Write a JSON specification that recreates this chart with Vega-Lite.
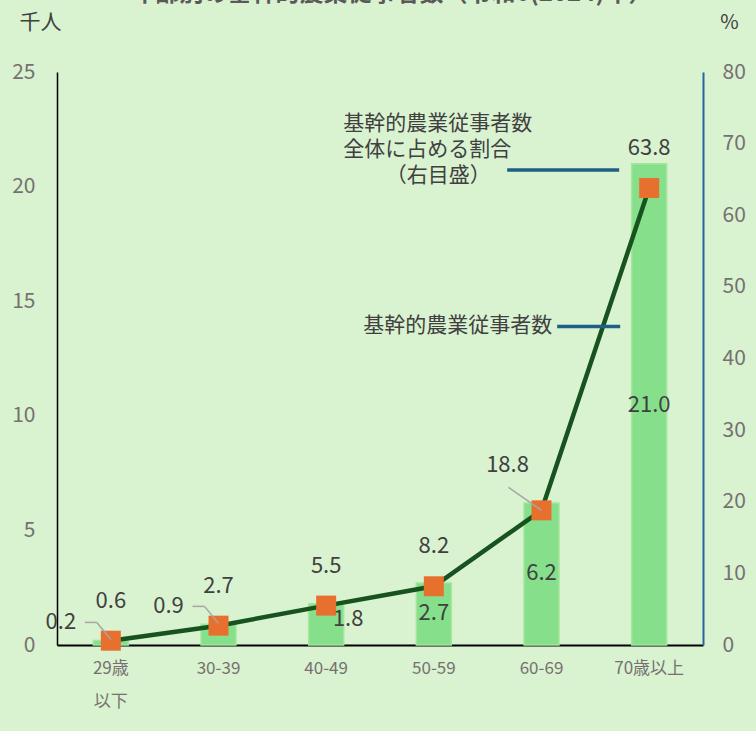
{
  "$schema": "https://vega.github.io/schema/vega-lite/v6.json",
  "width": 646,
  "height": 573,
  "autosize": {"type": "none"},
  "padding": {"left": 57, "top": 72, "right": 53, "bottom": 86},
  "background": "#d9f2d0",
  "config": {"view": {"stroke": null}, "font": "Noto Sans CJK JP"},
  "title": {"text": "年齢別の基幹的農業従事者数（令和6(2024)年）", "fontSize": 24, "fontWeight": "bold", "color": "#595959", "anchor": "middle", "frame": "group", "baseline": "alphabetic", "offset": 0, "dy": 14, "dx": 12},
  "data": {"values": [
    {"age": "29歳以下", "persons": 0.2, "pct": 0.6},
    {"age": "30-39", "persons": 0.9, "pct": 2.7},
    {"age": "40-49", "persons": 1.8, "pct": 5.5},
    {"age": "50-59", "persons": 2.7, "pct": 8.2},
    {"age": "60-69", "persons": 6.2, "pct": 18.8},
    {"age": "70歳以上", "persons": 21.0, "pct": 63.8}
  ]},
  "encoding": {
    "x": {
      "field": "age", "type": "nominal",
      "sort": ["29歳以下", "30-39", "40-49", "50-59", "60-69", "70歳以上"],
      "scale": {"paddingInner": 0.675, "paddingOuter": 0.3375},
      "axis": {"title": null, "labelAngle": 0, "ticks": false, "domainColor": "#000000", "domainWidth": 2, "labelFontSize": 17, "labelColor": "#767171", "labelPadding": 15, "labelLineHeight": 33, "labelBaseline": "top",
        "labelExpr": "datum.value == '29歳以下' ? ['29歳', '以下'] : datum.value"}
    }
  },
  "layer": [
    {
      "encoding": {
        "y": {"field": "persons", "type": "quantitative", "scale": {"domain": [0, 25]},
          "axis": {"orient": "left", "values": [0, 5, 10, 15, 20, 25], "grid": false, "ticks": false, "domainColor": "#000000", "domainWidth": 1.5, "labelFontSize": 21, "labelColor": "#767171", "labelPadding": 22,
            "title": "千人", "titleAngle": 0, "titleAlign": "center", "titleBaseline": "middle", "titleX": -17, "titleY": -50, "titleFontSize": 21, "titleFontWeight": "normal", "titleColor": "#404040"}}
      },
      "layer": [
        {"mark": {"type": "bar", "fill": "#86e08b", "stroke": "#a3e69c", "strokeWidth": 1.5}}
      ]
    },
    {
      "encoding": {
        "y": {"field": "pct", "type": "quantitative", "scale": {"domain": [0, 80]},
          "axis": {"orient": "right", "values": [0, 10, 20, 30, 40, 50, 60, 70, 80], "grid": false, "ticks": false, "domainColor": "#22689a", "domainWidth": 2, "labelFontSize": 21, "labelColor": "#767171", "labelPadding": 19,
            "title": "%", "titleAngle": 0, "titleAlign": "center", "titleBaseline": "middle", "titleX": 26, "titleY": -50, "titleFontSize": 20, "titleFontWeight": "normal", "titleColor": "#404040"}}
      },
      "layer": [
        {"mark": {"type": "line", "color": "#17521f", "strokeWidth": 4.5}},
        {"mark": {"type": "point", "shape": "square", "size": 400, "filled": true, "fill": "#e8702f", "opacity": 1}},
        {"transform": [{"filter": "datum.age != '60-69'"}],
          "mark": {"type": "text", "fontSize": 22, "color": "#404040", "align": "center", "baseline": "middle", "dy": -40},
          "encoding": {"text": {"field": "pct", "type": "quantitative", "format": ".1f"}}},
        {"transform": [{"filter": "datum.age == '60-69'"}],
          "mark": {"type": "text", "fontSize": 22, "color": "#404040", "align": "center", "baseline": "middle", "dx": -34, "dy": -45},
          "encoding": {"text": {"field": "pct", "type": "quantitative", "format": ".1f"}}},
        {"transform": [{"filter": "datum.age == '60-69'"}],
          "mark": {"type": "rule", "color": "#a6a6a6", "strokeWidth": 1.5, "xOffset": -33, "yOffset": -23, "x2Offset": 0, "y2Offset": 0},
          "encoding": {"x2": {"field": "age"}, "y2": {"field": "pct"}}}
      ]
    },
    {
      "encoding": {
        "y": {"field": "persons", "type": "quantitative", "scale": {"domain": [0, 25]}, "axis": null}
      },
      "layer": [
        {"transform": [{"filter": "datum.age == '29歳以下' || datum.age == '30-39'"}],
          "mark": {"type": "rule", "color": "#a6a6a6", "strokeWidth": 1.5, "xOffset": -26, "x2Offset": -14, "yOffset": -18, "y2Offset": -18},
          "encoding": {"x2": {"field": "age"}, "y2": {"field": "persons"}}},
        {"transform": [{"filter": "datum.age == '29歳以下' || datum.age == '30-39'"}],
          "mark": {"type": "rule", "color": "#a6a6a6", "strokeWidth": 1.5, "xOffset": -14, "x2Offset": 0, "yOffset": -18, "y2Offset": -1},
          "encoding": {"x2": {"field": "age"}, "y2": {"field": "persons"}}},
        {"transform": [{"filter": "datum.age == '29歳以下' || datum.age == '30-39'"}],
          "mark": {"type": "text", "fontSize": 22, "color": "#404040", "align": "center", "baseline": "middle", "dx": -50, "dy": -18},
          "encoding": {"text": {"field": "persons", "type": "quantitative", "format": ".1f"}}},
        {"transform": [{"filter": "datum.age == '40-49'"}],
          "mark": {"type": "text", "fontSize": 22, "color": "#404040", "align": "center", "baseline": "middle", "dx": 22, "dy": 15},
          "encoding": {"text": {"field": "persons", "type": "quantitative", "format": ".1f"}}},
        {"transform": [{"filter": "datum.age == '50-59'"}],
          "mark": {"type": "text", "fontSize": 22, "color": "#404040", "align": "center", "baseline": "middle", "dy": 30},
          "encoding": {"text": {"field": "persons", "type": "quantitative", "format": ".1f"}}},
        {"transform": [{"filter": "datum.age == '60-69'"}],
          "mark": {"type": "text", "fontSize": 22, "color": "#404040", "align": "center", "baseline": "middle", "dy": 70},
          "encoding": {"text": {"field": "persons", "type": "quantitative", "format": ".1f"}}},
        {"transform": [{"filter": "datum.age == '70歳以上'"}],
          "mark": {"type": "text", "fontSize": 22, "color": "#404040", "align": "center", "baseline": "middle", "dy": 241},
          "encoding": {"text": {"field": "persons", "type": "quantitative", "format": ".1f"}}},
        {"transform": [{"filter": "datum.age == '70歳以上'"}],
          "mark": {"type": "text", "fontSize": 21, "color": "#404040", "align": "right", "baseline": "middle", "dx": -97},
          "encoding": {"y": {"datum": 13.9, "type": "quantitative", "scale": {"domain": [0, 25]}, "axis": null}, "text": {"value": "基幹的農業従事者数"}}},
        {"transform": [{"filter": "datum.age == '70歳以上'"}],
          "mark": {"type": "rule", "color": "#1f5f86", "strokeWidth": 3.5, "xOffset": -92, "x2Offset": -29},
          "encoding": {"y": {"datum": 13.9, "type": "quantitative", "scale": {"domain": [0, 25]}, "axis": null}, "x2": {"field": "age"}}},
        {"transform": [{"filter": "datum.age == '70歳以上'"}],
          "mark": {"type": "text", "fontSize": 21, "color": "#404040", "align": "left", "baseline": "middle", "lineHeight": 26, "dx": -306},
          "encoding": {"y": {"datum": 22.73, "type": "quantitative", "scale": {"domain": [0, 25]}, "axis": null}, "text": {"value": ["基幹的農業従事者数", "全体に占める割合"]}}},
        {"transform": [{"filter": "datum.age == '70歳以上'"}],
          "mark": {"type": "text", "fontSize": 21, "color": "#404040", "align": "center", "baseline": "middle", "dx": -211},
          "encoding": {"y": {"datum": 20.46, "type": "quantitative", "scale": {"domain": [0, 25]}, "axis": null}, "text": {"value": "（右目盛）"}}},
        {"transform": [{"filter": "datum.age == '70歳以上'"}],
          "mark": {"type": "rule", "color": "#1f5f86", "strokeWidth": 3.5, "xOffset": -142, "x2Offset": -30},
          "encoding": {"y": {"datum": 20.72, "type": "quantitative", "scale": {"domain": [0, 25]}, "axis": null}, "x2": {"field": "age"}}}
      ]
    }
  ],
  "resolve": {"scale": {"y": "independent"}, "axis": {"y": "independent"}}
}
